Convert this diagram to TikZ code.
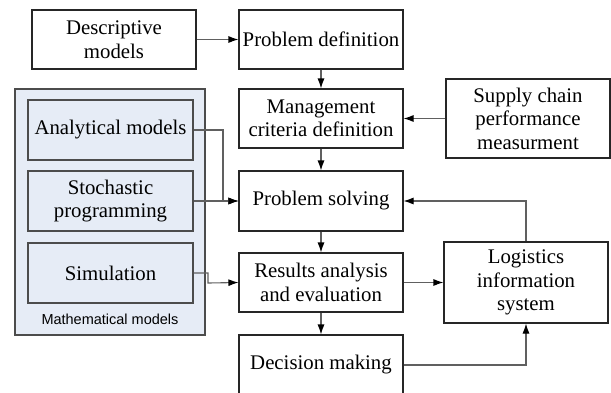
\documentclass[tikz,border=0pt]{standalone}
\usepackage{fontspec}
\setmainfont{Liberation Serif}
\newfontfamily\labelfont{Liberation Sans}
\usetikzlibrary{arrows.meta}
\definecolor{modelfill}{RGB}{230,236,246}
\definecolor{linegray}{RGB}{96,96,96}
\begin{document}
\begin{tikzpicture}[x=1pt,y=-1pt,
  box/.style={draw=black!85,line width=1.1pt,fill=white,rectangle,inner sep=0pt,
    minimum width=164pt,minimum height=59pt,align=center,
    font=\fontsize{20.8}{23.5}\selectfont},
  modelbox/.style={box,draw=black!70,fill=modelfill,minimum width=165pt,minimum height=60pt},
  conn/.style={draw=linegray,line width=1.1pt,-{Latex[black,length=10pt,width=7pt]}}]
\useasboundingbox (0,0) rectangle (611,392);
\begin{scope}
\clip (0,0) rectangle (611,392);
% left group of mathematical models
\node[draw=black!70,line width=1.1pt,fill=modelfill,minimum width=190pt,minimum height=246pt,inner sep=0pt] (math) at (110,212) {};
\node[font=\labelfont\fontsize{14.5}{16}\selectfont] (mathlabel) at (110,319) {Mathematical models};
\node[modelbox] (analytical) at (110.5,130) {Analytical models};
\node[modelbox] (stochastic) at (110.5,201) {Stochastic\\programming};
\node[modelbox] (simulation) at (110.5,273) {Simulation};
% main chain
\node[box] (desc) at (114,39.5) {Descriptive\\models};
\node[box] (probdef) at (321,39.5) {Problem definition};
\node[box] (mgmt) at (321,118.5) {Management\\criteria definition};
\node[box,minimum height=60pt] (solve) at (321,201) {Problem solving};
\node[box] (results) at (321,282.5) {Results analysis\\and evaluation};
\node[box,minimum height=60pt] (decision) at (321,365) {Decision making};
% right column
\node[box,minimum height=79pt] (supply) at (528,118.5) {Supply chain\\performance\\measurment};
\node[box,minimum height=81pt] (logistics) at (526,282.5) {Logistics\\information\\system};
% connectors
\draw[conn] (desc.east) -- (probdef.west);
\draw[conn] (probdef.south) -- (mgmt.north);
\draw[conn] (mgmt.south) -- (solve.north);
\draw[conn] (supply.west) -- (mgmt.east);
\draw[conn] (solve.south) -- (results.north);
\draw[conn] (results.south) -- (decision.north);
\draw[conn] (results.east) -- (logistics.west);
\draw[conn] (analytical.east) -- (223,130) -- (223,201) -- (solve.west);
\draw[conn] (stochastic.east) -- (solve.west);
\draw[conn] (simulation.east) -- (208,273) -- (208,283) -- (results.west);
\draw[conn] (logistics.north) |- (solve.east);
\draw[conn] (decision.east) -| (logistics.south);
\end{scope}
\end{tikzpicture}
\end{document}
